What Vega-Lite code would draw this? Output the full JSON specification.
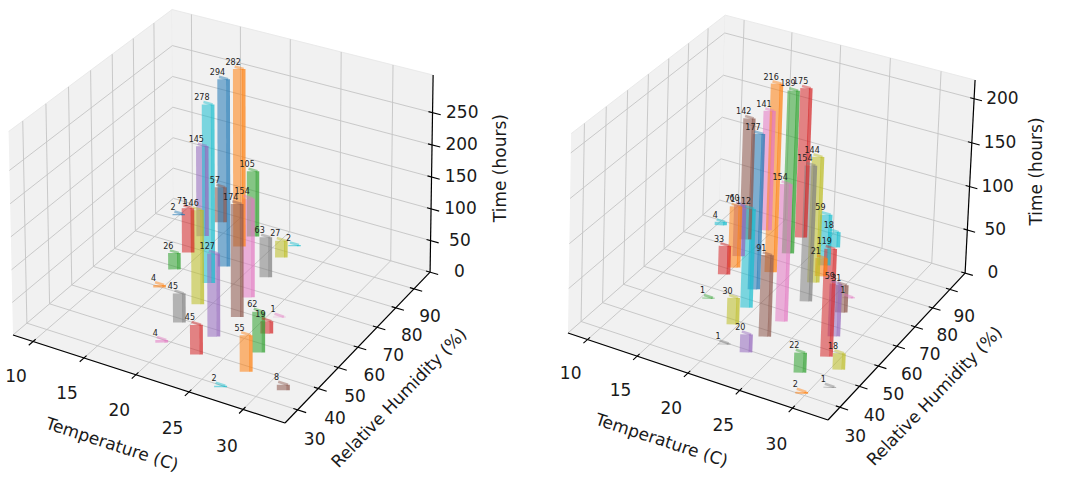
{
  "$schema": "https://vega.github.io/schema/vega-lite/v6.json",
  "padding": 0,
  "spacing": 0,
  "config": {"view": {"stroke": null}, "font": "DejaVu Sans"},
  "data": {
    "values": [
      {"p": "L", "k": "pane", "q": "floor", "c": 0}, {"p": "L", "k": "pane", "q": "floor", "c": 1},
      {"p": "L", "k": "pane", "q": "floor", "c": 2}, {"p": "L", "k": "pane", "q": "floor", "c": 3},
      {"p": "L", "k": "pane", "q": "left", "c": 0}, {"p": "L", "k": "pane", "q": "left", "c": 1},
      {"p": "L", "k": "pane", "q": "left", "c": 2}, {"p": "L", "k": "pane", "q": "left", "c": 3},
      {"p": "L", "k": "pane", "q": "back", "c": 0}, {"p": "L", "k": "pane", "q": "back", "c": 1},
      {"p": "L", "k": "pane", "q": "back", "c": 2}, {"p": "L", "k": "pane", "q": "back", "c": 3},
      {"p": "R", "k": "pane", "q": "floor", "c": 0}, {"p": "R", "k": "pane", "q": "floor", "c": 1},
      {"p": "R", "k": "pane", "q": "floor", "c": 2}, {"p": "R", "k": "pane", "q": "floor", "c": 3},
      {"p": "R", "k": "pane", "q": "left", "c": 0}, {"p": "R", "k": "pane", "q": "left", "c": 1},
      {"p": "R", "k": "pane", "q": "left", "c": 2}, {"p": "R", "k": "pane", "q": "left", "c": 3},
      {"p": "R", "k": "pane", "q": "back", "c": 0}, {"p": "R", "k": "pane", "q": "back", "c": 1},
      {"p": "R", "k": "pane", "q": "back", "c": 2}, {"p": "R", "k": "pane", "q": "back", "c": 3},

      {"p": "L", "k": "g", "a": "T", "v": 10}, {"p": "L", "k": "g", "a": "T", "v": 15},
      {"p": "L", "k": "g", "a": "T", "v": 20}, {"p": "L", "k": "g", "a": "T", "v": 25},
      {"p": "L", "k": "g", "a": "T", "v": 30},
      {"p": "L", "k": "g", "a": "H", "v": 30}, {"p": "L", "k": "g", "a": "H", "v": 40},
      {"p": "L", "k": "g", "a": "H", "v": 50}, {"p": "L", "k": "g", "a": "H", "v": 60},
      {"p": "L", "k": "g", "a": "H", "v": 70}, {"p": "L", "k": "g", "a": "H", "v": 80},
      {"p": "L", "k": "g", "a": "H", "v": 90},
      {"p": "L", "k": "g", "a": "Z", "v": 0}, {"p": "L", "k": "g", "a": "Z", "v": 50},
      {"p": "L", "k": "g", "a": "Z", "v": 100}, {"p": "L", "k": "g", "a": "Z", "v": 150},
      {"p": "L", "k": "g", "a": "Z", "v": 200}, {"p": "L", "k": "g", "a": "Z", "v": 250},
      {"p": "R", "k": "g", "a": "T", "v": 10}, {"p": "R", "k": "g", "a": "T", "v": 15},
      {"p": "R", "k": "g", "a": "T", "v": 20}, {"p": "R", "k": "g", "a": "T", "v": 25},
      {"p": "R", "k": "g", "a": "T", "v": 30},
      {"p": "R", "k": "g", "a": "H", "v": 30}, {"p": "R", "k": "g", "a": "H", "v": 40},
      {"p": "R", "k": "g", "a": "H", "v": 50}, {"p": "R", "k": "g", "a": "H", "v": 60},
      {"p": "R", "k": "g", "a": "H", "v": 70}, {"p": "R", "k": "g", "a": "H", "v": 80},
      {"p": "R", "k": "g", "a": "H", "v": 90},
      {"p": "R", "k": "g", "a": "Z", "v": 0}, {"p": "R", "k": "g", "a": "Z", "v": 50},
      {"p": "R", "k": "g", "a": "Z", "v": 100}, {"p": "R", "k": "g", "a": "Z", "v": 150},
      {"p": "R", "k": "g", "a": "Z", "v": 200},

      {"p": "L", "k": "ax", "a": "T"}, {"p": "L", "k": "ax", "a": "H"}, {"p": "L", "k": "ax", "a": "Z"},
      {"p": "R", "k": "ax", "a": "T"}, {"p": "R", "k": "ax", "a": "H"}, {"p": "R", "k": "ax", "a": "Z"},

      {"p": "L", "k": "ti", "a": "T", "txt": "Temperature (C)"},
      {"p": "L", "k": "ti", "a": "H", "txt": "Relative Humidity (%)"},
      {"p": "L", "k": "ti", "a": "Z", "txt": "Time (hours)"},
      {"p": "R", "k": "ti", "a": "T", "txt": "Temperature (C)"},
      {"p": "R", "k": "ti", "a": "H", "txt": "Relative Humidity (%)"},
      {"p": "R", "k": "ti", "a": "Z", "txt": "Time (hours)"},

      {"p": "L", "k": "b", "T": 16.8, "H": 86.2, "h": 282, "c": "orange"},
      {"p": "L", "k": "b", "T": 17.3, "H": 75.9, "h": 294, "c": "blue"},
      {"p": "L", "k": "b", "T": 17.5, "H": 67.3, "h": 278, "c": "cyan"},
      {"p": "L", "k": "b", "T": 13.1, "H": 86.0, "h": 145, "c": "purple"},
      {"p": "L", "k": "b", "T": 17.0, "H": 92.2, "h": 105, "c": "green"},
      {"p": "L", "k": "b", "T": 13.3, "H": 94.3, "h": 57, "c": "brown"},
      {"p": "L", "k": "b", "T": 22.3, "H": 57.2, "h": 174, "c": "brown"},
      {"p": "L", "k": "b", "T": 21.6, "H": 66.3, "h": 154, "c": "pink"},
      {"p": "L", "k": "b", "T": 13.4, "H": 77.3, "h": 71, "c": "red"},
      {"p": "L", "k": "b", "T": 18.4, "H": 57.5, "h": 146, "c": "olive"},
      {"p": "L", "k": "b", "T": 9.4, "H": 92.0, "h": 2, "c": "blue"},
      {"p": "L", "k": "b", "T": 21.3, "H": 76.6, "h": 63, "c": "gray"},
      {"p": "L", "k": "b", "T": 20.9, "H": 86.7, "h": 27, "c": "olive"},
      {"p": "L", "k": "b", "T": 21.0, "H": 93.1, "h": 2, "c": "cyan"},
      {"p": "L", "k": "b", "T": 13.8, "H": 68.6, "h": 26, "c": "green"},
      {"p": "L", "k": "b", "T": 22.1, "H": 46.9, "h": 127, "c": "purple"},
      {"p": "L", "k": "b", "T": 14.2, "H": 59.5, "h": 4, "c": "orange"},
      {"p": "L", "k": "b", "T": 18.5, "H": 48.2, "h": 45, "c": "gray"},
      {"p": "L", "k": "b", "T": 22.2, "H": 38.2, "h": 45, "c": "red"},
      {"p": "L", "k": "b", "T": 26.5, "H": 46.2, "h": 62, "c": "green"},
      {"p": "L", "k": "b", "T": 25.7, "H": 54.3, "h": 19, "c": "red"},
      {"p": "L", "k": "b", "T": 25.4, "H": 62.1, "h": 1, "c": "pink"},
      {"p": "L", "k": "b", "T": 27.0, "H": 37.6, "h": 55, "c": "orange"},
      {"p": "L", "k": "b", "T": 18.8, "H": 38.5, "h": 4, "c": "pink"},
      {"p": "L", "k": "b", "T": 26.3, "H": 29.1, "h": 2, "c": "cyan"},
      {"p": "L", "k": "b", "T": 30.9, "H": 35.2, "h": 8, "c": "brown"},

      {"p": "R", "k": "b", "T": 17.7, "H": 73.9, "h": 216, "c": "orange"},
      {"p": "R", "k": "b", "T": 17.5, "H": 84.2, "h": 189, "c": "green"},
      {"p": "R", "k": "b", "T": 17.2, "H": 92.9, "h": 175, "c": "red"},
      {"p": "R", "k": "b", "T": 13.8, "H": 91.4, "h": 141, "c": "pink"},
      {"p": "R", "k": "b", "T": 13.0, "H": 84.7, "h": 142, "c": "brown"},
      {"p": "R", "k": "b", "T": 17.8, "H": 64.6, "h": 177, "c": "blue"},
      {"p": "R", "k": "b", "T": 22.4, "H": 55.1, "h": 154, "c": "pink"},
      {"p": "R", "k": "b", "T": 22.7, "H": 66.3, "h": 154, "c": "gray"},
      {"p": "R", "k": "b", "T": 21.8, "H": 75.1, "h": 144, "c": "olive"},
      {"p": "R", "k": "b", "T": 21.3, "H": 83.8, "h": 59, "c": "cyan"},
      {"p": "R", "k": "b", "T": 20.6, "H": 92.9, "h": 18, "c": "cyan"},
      {"p": "R", "k": "b", "T": 9.8, "H": 87.6, "h": 4, "c": "cyan"},
      {"p": "R", "k": "b", "T": 13.9, "H": 76.5, "h": 60, "c": "purple"},
      {"p": "R", "k": "b", "T": 14.5, "H": 71.1, "h": 71, "c": "orange"},
      {"p": "R", "k": "b", "T": 18.7, "H": 56.2, "h": 112, "c": "cyan"},
      {"p": "R", "k": "b", "T": 14.3, "H": 66.9, "h": 33, "c": "red"},
      {"p": "R", "k": "b", "T": 22.3, "H": 47.1, "h": 91, "c": "brown"},
      {"p": "R", "k": "b", "T": 28.3, "H": 47.0, "h": 119, "c": "red"},
      {"p": "R", "k": "b", "T": 27.4, "H": 55.8, "h": 59, "c": "purple"},
      {"p": "R", "k": "b", "T": 26.2, "H": 66.3, "h": 31, "c": "brown"},
      {"p": "R", "k": "b", "T": 25.7, "H": 73.1, "h": 1, "c": "pink"},
      {"p": "R", "k": "b", "T": 21.9, "H": 78.7, "h": 21, "c": "orange"},
      {"p": "R", "k": "b", "T": 15.1, "H": 55.0, "h": 1, "c": "green"},
      {"p": "R", "k": "b", "T": 19.0, "H": 47.8, "h": 30, "c": "olive"},
      {"p": "R", "k": "b", "T": 19.9, "H": 39.0, "h": 1, "c": "gray"},
      {"p": "R", "k": "b", "T": 22.1, "H": 38.7, "h": 20, "c": "purple"},
      {"p": "R", "k": "b", "T": 27.5, "H": 37.7, "h": 22, "c": "green"},
      {"p": "R", "k": "b", "T": 30.1, "H": 43.6, "h": 18, "c": "olive"},
      {"p": "R", "k": "b", "T": 29.1, "H": 30.1, "h": 2, "c": "orange"},
      {"p": "R", "k": "b", "T": 30.7, "H": 35.7, "h": 1, "c": "gray"}
    ]
  },
  "transform": [
    {"calculate": "datum.p == 'L' ? 13.7 : 37.9", "as": "Px"},
    {"calculate": "datum.p == 'L' ? 353.1 : 351.0", "as": "Py"},
    {"calculate": "datum.p == 'L' ? 271.3 : 258.1", "as": "Ux"},
    {"calculate": "datum.p == 'L' ? 69.9 : 69.0", "as": "Uy"},
    {"calculate": "datum.p == 'L' ? 185.4 : 177.7", "as": "Vx"},
    {"calculate": "datum.p == 'L' ? -125.4 : -121.3", "as": "Vy"},
    {"calculate": "datum.p == 'L' ? -4.8 : 2.6", "as": "Wx"},
    {"calculate": "datum.p == 'L' ? -216.9 : -212.6", "as": "Wy"},
    {"calculate": "datum.p == 'L' ? 25.8 : 25.3", "as": "Tr"},
    {"calculate": "datum.p == 'L' ? 308 : 221", "as": "Zm"},
    {"calculate": "datum.a == 'T' ? (datum.v - 8) / datum.Tr : (datum.a == 'H' ? (datum.v - 24) / 75 : datum.v / datum.Zm)", "as": "n"},
    {"calculate": "(datum.T - 8) / datum.Tr", "as": "bu"},
    {"calculate": "(datum.H - 24) / 75", "as": "bv"},
    {"calculate": "datum.h / datum.Zm", "as": "bw"},
    {"calculate": "0.9 / datum.Tr", "as": "du"},
    {"calculate": "0.433 * (1 - datum.bu) + 0.75 * datum.bv", "as": "dep"}
  ],
  "facet": {"column": {"field": "p", "type": "nominal", "header": null}},
  "spec": {
    "width": 532,
    "height": 478,
    "encoding": {
      "x": {"field": "x1", "type": "quantitative", "scale": {"domain": [0, 532], "nice": false, "zero": false}, "axis": null},
      "y": {"field": "y1", "type": "quantitative", "scale": {"domain": [0, 478], "nice": false, "zero": false, "reverse": true}, "axis": null}
    },
    "layer": [
      {
        "transform": [
          {"filter": "datum.k == 'pane'"},
          {"calculate": "datum.q == 'left' ? 0 : (datum.c == 1 || datum.c == 2 ? 1 : 0)", "as": "a1"},
          {"calculate": "datum.q == 'back' ? 1 : (datum.q == 'left' ? (datum.c == 1 || datum.c == 2 ? 1 : 0) : (datum.c >= 2 ? 1 : 0))", "as": "b1"},
          {"calculate": "datum.q == 'floor' ? 0 : (datum.c >= 2 ? 1 : 0)", "as": "c1"},
          {"calculate": "1 + (0.433 * (1 - datum.a1) + 0.75 * datum.b1 - 0.15 * datum.c1) / 8", "as": "d1"},
          {"calculate": "(datum.Px + datum.a1 * datum.Ux + datum.b1 * datum.Vx + datum.c1 * datum.Wx) / datum.d1", "as": "x1"},
          {"calculate": "(datum.Py + datum.a1 * datum.Uy + datum.b1 * datum.Vy + datum.c1 * datum.Wy) / datum.d1", "as": "y1"}
        ],
        "mark": {"type": "line", "fill": "#f1f1f1", "stroke": "#eaeaea", "strokeWidth": 1},
        "encoding": {"detail": {"field": "q"}, "order": {"field": "c", "type": "quantitative"}}
      },
      {
        "transform": [
          {"filter": "datum.k == 'g'"},
          {"calculate": "datum.a == 'T' ? datum.n : 0", "as": "a1"},
          {"calculate": "datum.a == 'H' ? datum.n : 0", "as": "b1"},
          {"calculate": "datum.a == 'Z' ? datum.n : 0", "as": "c1"},
          {"calculate": "datum.a == 'T' ? datum.n : (datum.a == 'H' ? 1 : 0)", "as": "a2"},
          {"calculate": "datum.a == 'H' ? datum.n : 1", "as": "b2"},
          {"calculate": "datum.a == 'Z' ? datum.n : 0", "as": "c2"},
          {"calculate": "1 + (0.433 * (1 - datum.a1) + 0.75 * datum.b1 - 0.15 * datum.c1) / 8", "as": "d1"},
          {"calculate": "(datum.Px + datum.a1 * datum.Ux + datum.b1 * datum.Vx + datum.c1 * datum.Wx) / datum.d1", "as": "x1"},
          {"calculate": "(datum.Py + datum.a1 * datum.Uy + datum.b1 * datum.Vy + datum.c1 * datum.Wy) / datum.d1", "as": "y1"},
          {"calculate": "1 + (0.433 * (1 - datum.a2) + 0.75 * datum.b2 - 0.15 * datum.c2) / 8", "as": "d2"},
          {"calculate": "(datum.Px + datum.a2 * datum.Ux + datum.b2 * datum.Vx + datum.c2 * datum.Wx) / datum.d2", "as": "x2"},
          {"calculate": "(datum.Py + datum.a2 * datum.Uy + datum.b2 * datum.Vy + datum.c2 * datum.Wy) / datum.d2", "as": "y2"}
        ],
        "mark": {"type": "rule", "color": "#c4c4c4", "strokeWidth": 0.9},
        "encoding": {"x2": {"field": "x2"}, "y2": {"field": "y2"}}
      },
      {
        "transform": [
          {"filter": "datum.k == 'g'"},
          {"calculate": "datum.a == 'T' ? datum.n : 0", "as": "a1"},
          {"calculate": "datum.a == 'H' ? datum.n : 1", "as": "b1"},
          {"calculate": "datum.a == 'Z' ? datum.n : 0", "as": "c1"},
          {"calculate": "datum.a == 'T' ? datum.n : (datum.a == 'Z' ? 1 : 0)", "as": "a2"},
          {"calculate": "datum.a == 'H' ? datum.n : 1", "as": "b2"},
          {"calculate": "datum.a == 'Z' ? datum.n : 1", "as": "c2"},
          {"calculate": "1 + (0.433 * (1 - datum.a1) + 0.75 * datum.b1 - 0.15 * datum.c1) / 8", "as": "d1"},
          {"calculate": "(datum.Px + datum.a1 * datum.Ux + datum.b1 * datum.Vx + datum.c1 * datum.Wx) / datum.d1", "as": "x1"},
          {"calculate": "(datum.Py + datum.a1 * datum.Uy + datum.b1 * datum.Vy + datum.c1 * datum.Wy) / datum.d1", "as": "y1"},
          {"calculate": "1 + (0.433 * (1 - datum.a2) + 0.75 * datum.b2 - 0.15 * datum.c2) / 8", "as": "d2"},
          {"calculate": "(datum.Px + datum.a2 * datum.Ux + datum.b2 * datum.Vx + datum.c2 * datum.Wx) / datum.d2", "as": "x2"},
          {"calculate": "(datum.Py + datum.a2 * datum.Uy + datum.b2 * datum.Vy + datum.c2 * datum.Wy) / datum.d2", "as": "y2"}
        ],
        "mark": {"type": "rule", "color": "#c4c4c4", "strokeWidth": 0.9},
        "encoding": {"x2": {"field": "x2"}, "y2": {"field": "y2"}}
      },
      {
        "transform": [
          {"filter": "datum.k == 'ax'"},
          {"calculate": "datum.a == 'T' ? 0 : 1", "as": "a1"},
          {"calculate": "datum.a == 'Z' ? 1 : 0", "as": "b1"},
          {"calculate": "0", "as": "c1"},
          {"calculate": "1", "as": "a2"},
          {"calculate": "datum.a == 'T' ? 0 : 1", "as": "b2"},
          {"calculate": "datum.a == 'Z' ? 1 : 0", "as": "c2"},
          {"calculate": "1 + (0.433 * (1 - datum.a1) + 0.75 * datum.b1 - 0.15 * datum.c1) / 8", "as": "d1"},
          {"calculate": "(datum.Px + datum.a1 * datum.Ux + datum.b1 * datum.Vx + datum.c1 * datum.Wx) / datum.d1", "as": "x1"},
          {"calculate": "(datum.Py + datum.a1 * datum.Uy + datum.b1 * datum.Vy + datum.c1 * datum.Wy) / datum.d1", "as": "y1"},
          {"calculate": "1 + (0.433 * (1 - datum.a2) + 0.75 * datum.b2 - 0.15 * datum.c2) / 8", "as": "d2"},
          {"calculate": "(datum.Px + datum.a2 * datum.Ux + datum.b2 * datum.Vx + datum.c2 * datum.Wx) / datum.d2", "as": "x2"},
          {"calculate": "(datum.Py + datum.a2 * datum.Uy + datum.b2 * datum.Vy + datum.c2 * datum.Wy) / datum.d2", "as": "y2"}
        ],
        "mark": {"type": "rule", "color": "#000000", "strokeWidth": 1.2},
        "encoding": {"x2": {"field": "x2"}, "y2": {"field": "y2"}}
      },
      {
        "transform": [
          {"filter": "datum.k == 'g'"},
          {"calculate": "datum.a == 'T' ? datum.n : 0.985", "as": "a1"},
          {"calculate": "datum.a == 'T' ? -0.025 : (datum.a == 'H' ? datum.n : 1)", "as": "b1"},
          {"calculate": "datum.a == 'Z' ? datum.n : 0", "as": "c1"},
          {"calculate": "datum.a == 'T' ? datum.n : 1.03", "as": "a2"},
          {"calculate": "datum.a == 'T' ? 0.015 : (datum.a == 'H' ? datum.n : 1)", "as": "b2"},
          {"calculate": "datum.a == 'Z' ? datum.n : 0", "as": "c2"},
          {"calculate": "1 + (0.433 * (1 - datum.a1) + 0.75 * datum.b1 - 0.15 * datum.c1) / 8", "as": "d1"},
          {"calculate": "(datum.Px + datum.a1 * datum.Ux + datum.b1 * datum.Vx + datum.c1 * datum.Wx) / datum.d1", "as": "x1"},
          {"calculate": "(datum.Py + datum.a1 * datum.Uy + datum.b1 * datum.Vy + datum.c1 * datum.Wy) / datum.d1", "as": "y1"},
          {"calculate": "1 + (0.433 * (1 - datum.a2) + 0.75 * datum.b2 - 0.15 * datum.c2) / 8", "as": "d2"},
          {"calculate": "(datum.Px + datum.a2 * datum.Ux + datum.b2 * datum.Vx + datum.c2 * datum.Wx) / datum.d2", "as": "x2"},
          {"calculate": "(datum.Py + datum.a2 * datum.Uy + datum.b2 * datum.Vy + datum.c2 * datum.Wy) / datum.d2", "as": "y2"}
        ],
        "mark": {"type": "rule", "color": "#000000", "strokeWidth": 1.1},
        "encoding": {"x2": {"field": "x2"}, "y2": {"field": "y2"}}
      },
      {
        "transform": [
          {"filter": "datum.k == 'g'"},
          {"calculate": "datum.a == 'T' ? datum.n : (datum.a == 'H' ? 1.06 : 1.085)", "as": "a1"},
          {"calculate": "datum.a == 'T' ? -0.1 : (datum.a == 'H' ? datum.n : 1.048)", "as": "b1"},
          {"calculate": "datum.a == 'T' ? -0.1 : (datum.a == 'H' ? -0.12 : datum.n)", "as": "c1"},
          {"calculate": "1 + (0.433 * (1 - datum.a1) + 0.75 * datum.b1 - 0.15 * datum.c1) / 8", "as": "d1"},
          {"calculate": "(datum.Px + datum.a1 * datum.Ux + datum.b1 * datum.Vx + datum.c1 * datum.Wx) / datum.d1", "as": "x1"},
          {"calculate": "(datum.Py + datum.a1 * datum.Uy + datum.b1 * datum.Vy + datum.c1 * datum.Wy) / datum.d1", "as": "y1"}
        ],
        "mark": {"type": "text", "fontSize": 17, "color": "#1a1a1a", "align": "center", "baseline": "middle"},
        "encoding": {"text": {"field": "v", "type": "quantitative", "format": "d"}}
      },
      {
        "transform": [
          {"filter": "datum.k == 'ti'"},
          {"calculate": "datum.a == 'T' ? 0.5 : (datum.a == 'H' ? 1.14 : 1.2)", "as": "a1"},
          {"calculate": "datum.a == 'T' ? -0.2 : (datum.a == 'H' ? 0.5 : 1.115)", "as": "b1"},
          {"calculate": "datum.a == 'T' ? -0.17 : (datum.a == 'H' ? -0.21 : 0.53)", "as": "c1"},
          {"calculate": "datum.a == 'T' ? 18 : (datum.a == 'H' ? -46 : -90)", "as": "ang"},
          {"calculate": "1 + (0.433 * (1 - datum.a1) + 0.75 * datum.b1 - 0.15 * datum.c1) / 8", "as": "d1"},
          {"calculate": "(datum.Px + datum.a1 * datum.Ux + datum.b1 * datum.Vx + datum.c1 * datum.Wx) / datum.d1", "as": "x1"},
          {"calculate": "(datum.Py + datum.a1 * datum.Uy + datum.b1 * datum.Vy + datum.c1 * datum.Wy) / datum.d1", "as": "y1"}
        ],
        "mark": {"type": "text", "fontSize": 17, "color": "#1a1a1a", "align": "center", "baseline": "middle"},
        "encoding": {
          "text": {"field": "txt"},
          "angle": {"field": "ang", "type": "quantitative", "scale": null}
        }
      },
      {
        "transform": [
          {"filter": "datum.k == 'b'"},
          {"calculate": "datum.bu + datum.du / 2", "as": "a1"},
          {"calculate": "datum.bv", "as": "b1"},
          {"calculate": "0", "as": "c1"},
          {"calculate": "datum.a1", "as": "a2"},
          {"calculate": "datum.bv", "as": "b2"},
          {"calculate": "datum.bw", "as": "c2"},
          {"calculate": "1 + (0.433 * (1 - datum.a1) + 0.75 * datum.b1 - 0.15 * datum.c1) / 8", "as": "d1"},
          {"calculate": "(datum.Px + datum.a1 * datum.Ux + datum.b1 * datum.Vx + datum.c1 * datum.Wx) / datum.d1", "as": "x1"},
          {"calculate": "(datum.Py + datum.a1 * datum.Uy + datum.b1 * datum.Vy + datum.c1 * datum.Wy) / datum.d1", "as": "y1"},
          {"calculate": "1 + (0.433 * (1 - datum.a2) + 0.75 * datum.b2 - 0.15 * datum.c2) / 8", "as": "d2"},
          {"calculate": "(datum.Px + datum.a2 * datum.Ux + datum.b2 * datum.Vx + datum.c2 * datum.Wx) / datum.d2", "as": "x2"},
          {"calculate": "(datum.Py + datum.a2 * datum.Uy + datum.b2 * datum.Vy + datum.c2 * datum.Wy) / datum.d2", "as": "y2"}
        ],
        "mark": {"type": "rule", "strokeWidth": 9.5, "opacity": 0.55},
        "encoding": {
          "x2": {"field": "x2"},
          "y2": {"field": "y2"},
          "color": {
            "field": "c",
            "type": "nominal",
            "legend": null,
            "scale": {
              "domain": ["blue", "orange", "green", "red", "purple", "brown", "pink", "gray", "olive", "cyan"],
              "range": ["#1f77b4", "#ff7f0e", "#2ca02c", "#d62728", "#9467bd", "#8c564b", "#e377c2", "#7f7f7f", "#bcbd22", "#17becf"]
            }
          },
          "order": {"field": "dep", "type": "quantitative", "sort": "descending"}
        }
      },
      {
        "transform": [
          {"filter": "datum.k == 'b'"},
          {"calculate": "datum.bu + datum.du", "as": "a1"},
          {"calculate": "datum.bv + 0.01", "as": "b1"},
          {"calculate": "0", "as": "c1"},
          {"calculate": "datum.a1", "as": "a2"},
          {"calculate": "datum.b1", "as": "b2"},
          {"calculate": "datum.bw", "as": "c2"},
          {"calculate": "1 + (0.433 * (1 - datum.a1) + 0.75 * datum.b1 - 0.15 * datum.c1) / 8", "as": "d1"},
          {"calculate": "(datum.Px + datum.a1 * datum.Ux + datum.b1 * datum.Vx + datum.c1 * datum.Wx) / datum.d1", "as": "x1"},
          {"calculate": "(datum.Py + datum.a1 * datum.Uy + datum.b1 * datum.Vy + datum.c1 * datum.Wy) / datum.d1", "as": "y1"},
          {"calculate": "1 + (0.433 * (1 - datum.a2) + 0.75 * datum.b2 - 0.15 * datum.c2) / 8", "as": "d2"},
          {"calculate": "(datum.Px + datum.a2 * datum.Ux + datum.b2 * datum.Vx + datum.c2 * datum.Wx) / datum.d2", "as": "x2"},
          {"calculate": "(datum.Py + datum.a2 * datum.Uy + datum.b2 * datum.Vy + datum.c2 * datum.Wy) / datum.d2", "as": "y2"}
        ],
        "mark": {"type": "rule", "strokeWidth": 3.6, "opacity": 0.72},
        "encoding": {
          "x2": {"field": "x2"},
          "y2": {"field": "y2"},
          "color": {"field": "c", "type": "nominal", "legend": null},
          "order": {"field": "dep", "type": "quantitative", "sort": "descending"}
        }
      },
      {
        "transform": [
          {"filter": "datum.k == 'b'"},
          {"calculate": "datum.bu", "as": "a1"},
          {"calculate": "datum.bv + 0.01", "as": "b1"},
          {"calculate": "datum.bw", "as": "c1"},
          {"calculate": "datum.bu + datum.du", "as": "a2"},
          {"calculate": "datum.b1", "as": "b2"},
          {"calculate": "datum.bw", "as": "c2"},
          {"calculate": "1 + (0.433 * (1 - datum.a1) + 0.75 * datum.b1 - 0.15 * datum.c1) / 8", "as": "d1"},
          {"calculate": "(datum.Px + datum.a1 * datum.Ux + datum.b1 * datum.Vx + datum.c1 * datum.Wx) / datum.d1", "as": "x1"},
          {"calculate": "(datum.Py + datum.a1 * datum.Uy + datum.b1 * datum.Vy + datum.c1 * datum.Wy) / datum.d1", "as": "y1"},
          {"calculate": "1 + (0.433 * (1 - datum.a2) + 0.75 * datum.b2 - 0.15 * datum.c2) / 8", "as": "d2"},
          {"calculate": "(datum.Px + datum.a2 * datum.Ux + datum.b2 * datum.Vx + datum.c2 * datum.Wx) / datum.d2", "as": "x2"},
          {"calculate": "(datum.Py + datum.a2 * datum.Uy + datum.b2 * datum.Vy + datum.c2 * datum.Wy) / datum.d2", "as": "y2"}
        ],
        "mark": {"type": "rule", "strokeWidth": 2.6, "opacity": 0.45},
        "encoding": {
          "x2": {"field": "x2"},
          "y2": {"field": "y2"},
          "color": {"field": "c", "type": "nominal", "legend": null},
          "order": {"field": "dep", "type": "quantitative", "sort": "descending"}
        }
      },
      {
        "transform": [
          {"filter": "datum.k == 'b'"},
          {"calculate": "datum.bu", "as": "a1"},
          {"calculate": "datum.bv", "as": "b1"},
          {"calculate": "datum.bw", "as": "c1"},
          {"calculate": "1 + (0.433 * (1 - datum.a1) + 0.75 * datum.b1 - 0.15 * datum.c1) / 8", "as": "d1"},
          {"calculate": "(datum.Px + datum.a1 * datum.Ux + datum.b1 * datum.Vx + datum.c1 * datum.Wx) / datum.d1", "as": "x1"},
          {"calculate": "(datum.Py + datum.a1 * datum.Uy + datum.b1 * datum.Vy + datum.c1 * datum.Wy) / datum.d1", "as": "y1"}
        ],
        "mark": {"type": "text", "fontSize": 8, "color": "#222222", "align": "center", "baseline": "bottom", "dy": -1},
        "encoding": {"text": {"field": "h", "type": "quantitative", "format": "d"}}
      }
    ]
  }
}
